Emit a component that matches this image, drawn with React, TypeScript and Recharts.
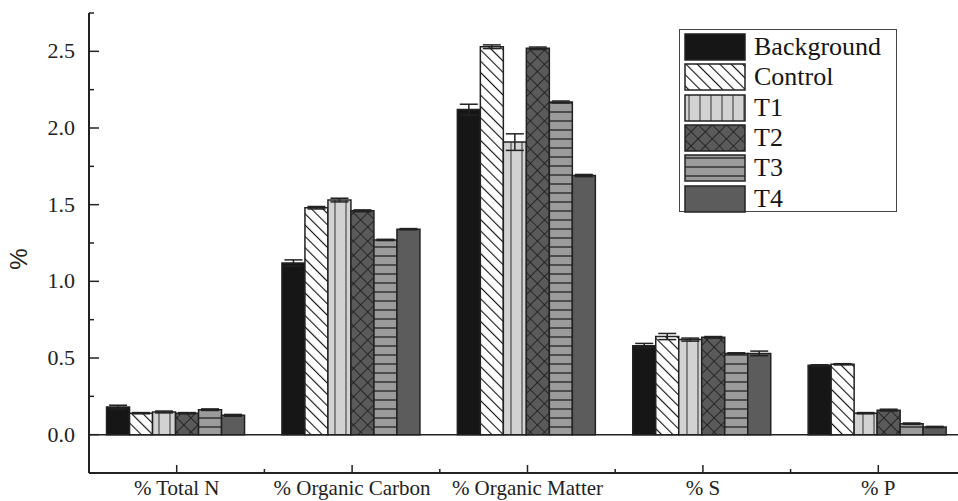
import React from "react";
import {
  BarChart,
  Bar,
  XAxis,
  YAxis,
  ErrorBar,
  ReferenceLine,
  Legend,
} from "recharts";

// categories and series
const categories = [
  "% Total N",
  "% Organic Carbon",
  "% Organic Matter",
  "% S",
  "% P",
];
const seriesNames = ["Background", "Control", "T1", "T2", "T3", "T4"];

const background = [0.18, 1.12, 2.12, 0.58, 0.452];
const control = [0.14, 1.48, 2.53, 0.64, 0.459];
const t1 = [0.148, 1.53, 1.908, 0.62, 0.14];
const t2 = [0.14, 1.46, 2.52, 0.635, 0.16];
const t3 = [0.163, 1.27, 2.17, 0.53, 0.072];
const t4 = [0.126, 1.34, 1.69, 0.53, 0.05];

const backgroundErr = [0.012, 0.02, 0.035, 0.015, 0.004];
const controlErr = [0.004, 0.008, 0.012, 0.02, 0.004];
const t1Err = [0.006, 0.012, 0.054, 0.01, 0.004];
const t2Err = [0.004, 0.006, 0.008, 0.005, 0.006];
const t3Err = [0.005, 0.004, 0.006, 0.004, 0.004];
const t4Err = [0.006, 0.004, 0.007, 0.015, 0.004];

const yTicks = [-0.25, 0, 0.25, 0.5, 0.75, 1, 1.25, 1.5, 1.75, 2, 2.25, 2.5, 2.75];

const seriesValues = [background, control, t1, t2, t3, t4];
const seriesErrors = [backgroundErr, controlErr, t1Err, t2Err, t3Err, t4Err];

const FILLS = [
  "#161616",
  "url(#patControl)",
  "url(#patT1)",
  "url(#patT2)",
  "url(#patT3)",
  "#5c5c5c",
];

const data = categories.map((name, i) => {
  const row: any = { name };
  seriesNames.forEach((s, k) => {
    row[s] = seriesValues[k][i];
    row[s + "_err"] = seriesErrors[k][i];
  });
  return row;
});

const CHART_W = 970;
const CHART_H = 501;
const MARGIN = { top: 13, right: 4, bottom: 0, left: 0 };
const Y_AXIS_W = 89;
const X_AXIS_H = 28;
const SERIF = "Liberation Serif, Times New Roman, serif";
const INK = "#222";

const bandWidth =
  (CHART_W - MARGIN.left - MARGIN.right - Y_AXIS_W) / categories.length;

const Patterns = () => (
  <svg width={0} height={0} style={{ position: "absolute" }}>
    <defs>
      <pattern
        id="patControl"
        patternUnits="userSpaceOnUse"
        width={8}
        height={8}
        patternTransform="rotate(-45)"
      >
        <rect width={8} height={8} fill="#fff" />
        <line x1={0} y1={0} x2={0} y2={8} stroke="#111" strokeWidth={2.2} />
      </pattern>
      <pattern id="patT1" patternUnits="userSpaceOnUse" width={11} height={11}>
        <rect width={11} height={11} fill="#d2d2d2" />
        <line x1={5} y1={0} x2={5} y2={11} stroke="#555" strokeWidth={1.3} />
      </pattern>
      <pattern
        id="patT2"
        patternUnits="userSpaceOnUse"
        width={10}
        height={10}
        patternTransform="rotate(45)"
      >
        <rect width={10} height={10} fill="#5a5a5a" />
        <line x1={0} y1={0} x2={0} y2={10} stroke="#1a1a1a" strokeWidth={1.6} />
        <line x1={0} y1={0} x2={10} y2={0} stroke="#1a1a1a" strokeWidth={1.6} />
      </pattern>
      <pattern id="patT3" patternUnits="userSpaceOnUse" width={9} height={9}>
        <rect width={9} height={9} fill="#9b9b9b" />
        <line x1={0} y1={4} x2={9} y2={4} stroke="#222" strokeWidth={1.3} />
      </pattern>
    </defs>
  </svg>
);

const YTick = (props: any) => {
  const { x, y, payload } = props;
  const v = payload.value;
  const major = Math.abs((v * 2) % 1) < 1e-6;
  const labelled = major && v >= 0 && v <= 2.5;
  return (
    <g>
      <line x1={x} y1={y} x2={x + (major ? 10 : 5)} y2={y} stroke={INK} strokeWidth={1.5} />
      {labelled && (
        <text
          x={x - 14}
          y={y}
          dy={7}
          textAnchor="end"
          style={{ fontFamily: SERIF }}
          fontSize={22}
          fill="#222"
        >
          {v.toFixed(1)}
        </text>
      )}
    </g>
  );
};

const XTick = (props: any) => {
  const { x, y, payload } = props;
  const half = bandWidth / 2;
  return (
    <g>
      <line x1={x} y1={y} x2={x} y2={y - 8} stroke={INK} strokeWidth={1.5} />
      <line x1={x + half} y1={y} x2={x + half} y2={y - 4} stroke={INK} strokeWidth={1.5} />
      <text
        x={x}
        y={y + 22}
        textAnchor="middle"
        style={{ fontFamily: SERIF }}
        fontSize={21}
        fill="#222"
      >
        {payload.value}
      </text>
    </g>
  );
};

const LegendBox = () => (
  <div
    style={{
      width: 218,
      height: 183,
      border: "1.5px solid #444",
      background: "#fff",
      boxSizing: "border-box",
      paddingTop: 2,
      paddingLeft: 4,
    }}
  >
    {seriesNames.map((s, k) => (
      <div
        key={s}
        style={{ display: "flex", alignItems: "center", height: 30.3 }}
      >
        <svg width={62} height={28}>
          <rect
            x={1}
            y={1}
            width={60}
            height={26}
            fill={FILLS[k]}
            stroke={INK}
            strokeWidth={1.5}
          />
        </svg>
        <span
          style={{
            marginLeft: 8,
            fontFamily: SERIF,
            fontSize: 26,
            color: "#151515",
            lineHeight: "28px",
          }}
        >
          {s}
        </span>
      </div>
    ))}
  </div>
);

export default function App() {
  return (
    <div
      style={{
        position: "absolute",
        left: 0,
        top: 0,
        width: 958,
        height: 501,
        overflow: "hidden",
        background: "#fff",
      }}
    >
      <Patterns />
      <BarChart
        width={CHART_W}
        height={CHART_H}
        data={data}
        margin={MARGIN}
        barCategoryGap="10%"
        barGap={0}
      >
        <XAxis
          dataKey="name"
          height={X_AXIS_H}
          tickSize={0}
          tickMargin={0}
          tickLine={false}
          axisLine={{ stroke: INK, strokeWidth: 2 }}
          tick={<XTick />}
          interval={0}
        />
        <YAxis
          type="number"
          width={Y_AXIS_W}
          domain={[-0.25, 2.75]}
          ticks={yTicks}
          interval={0}
          tickSize={0}
          tickMargin={0}
          tickLine={false}
          axisLine={{ stroke: INK, strokeWidth: 2 }}
          tick={<YTick />}
          allowDataOverflow
          label={{
            content: (p: any) => {
              const vb = p.viewBox;
              const lx = vb.x + 27;
              const ly = vb.y + vb.height / 2 + 16;
              return (
                <text
                  x={lx}
                  y={ly}
                  transform={`rotate(-90, ${lx}, ${ly})`}
                  textAnchor="middle"
                  style={{ fontFamily: "Liberation Sans, Arial, sans-serif" }}
                  fontSize={24}
                  fill="#222"
                >
                  %
                </text>
              );
            },
          }}
        />
        <ReferenceLine y={0} stroke={INK} strokeWidth={1.5} />
        {seriesNames.map((s, k) => (
          <Bar
            key={s}
            dataKey={s}
            fill={FILLS[k]}
            stroke={INK}
            strokeWidth={1.5}
            isAnimationActive={false}
          >
            <ErrorBar
              dataKey={s + "_err"}
              width={9}
              stroke={INK}
              strokeWidth={1.5}
              direction="y"
            />
          </Bar>
        ))}
        <Legend
          layout="vertical"
          align="center"
          verticalAlign="middle"
          wrapperStyle={{ left: 679, top: 29, width: 218, height: 183 }}
          content={() => <LegendBox />}
        />
      </BarChart>
    </div>
  );
}
